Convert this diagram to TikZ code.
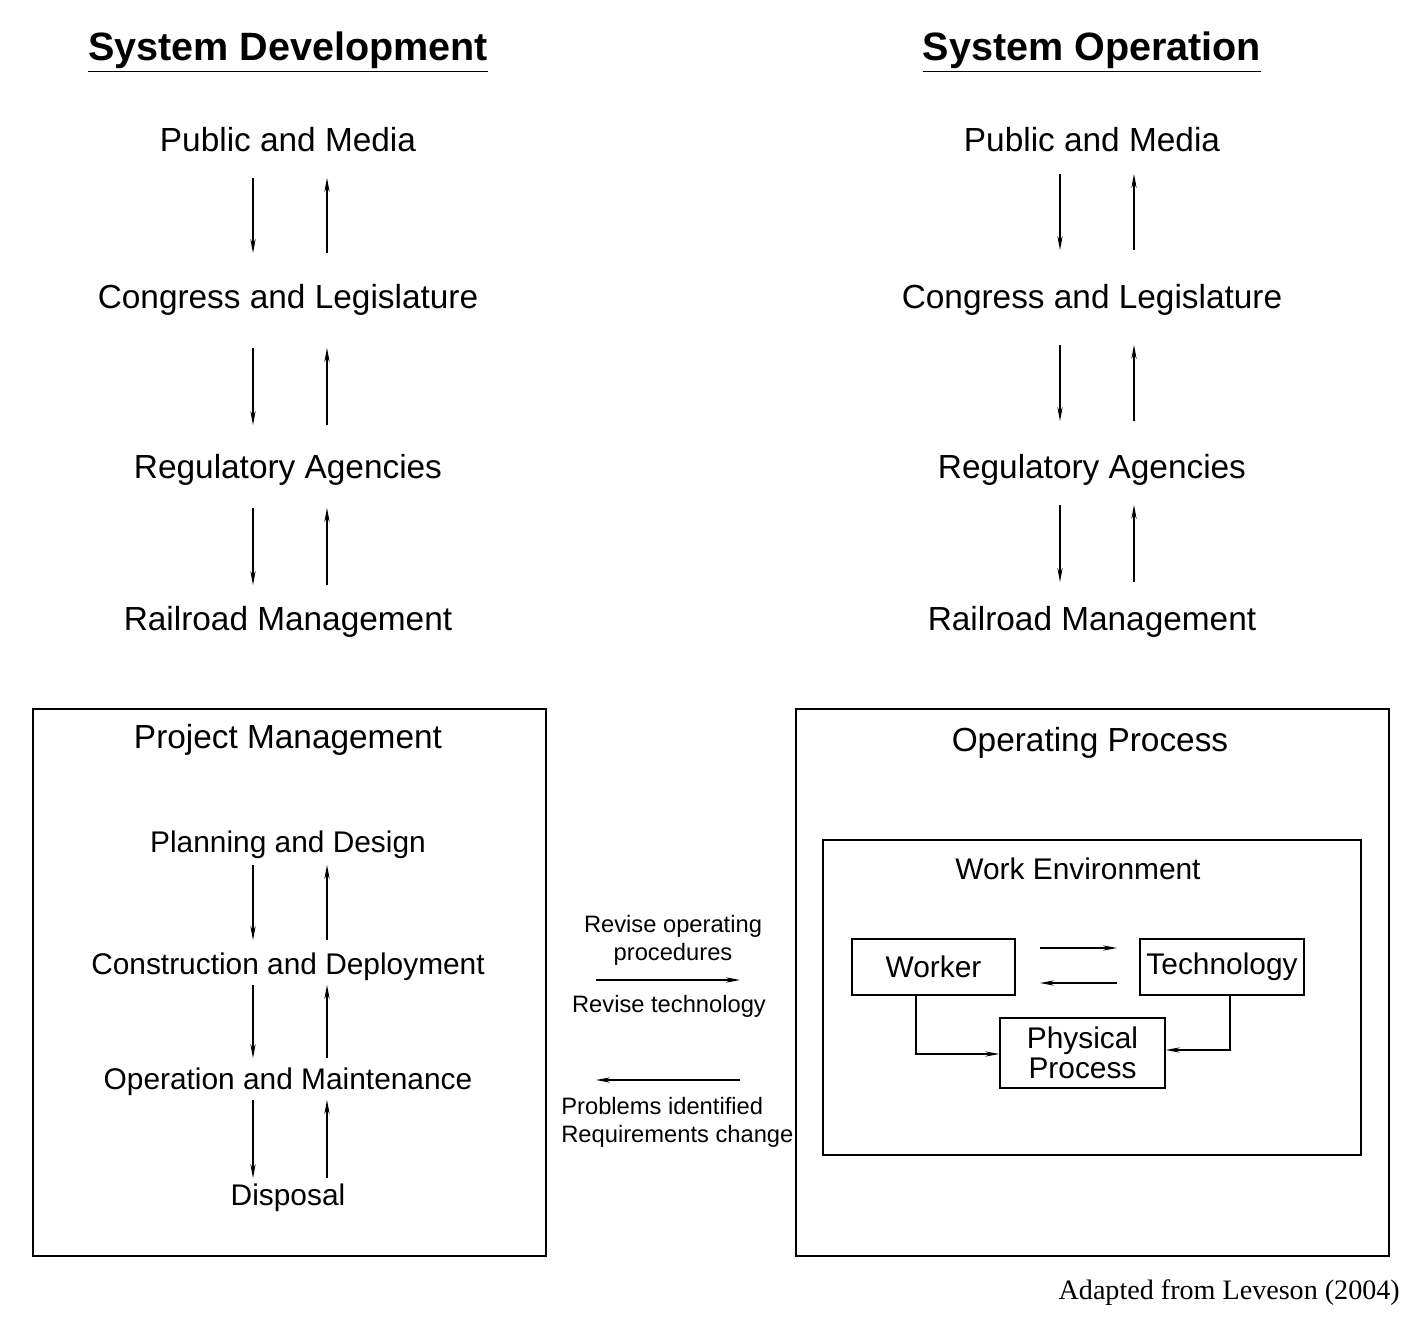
\documentclass[tikz,border=0pt]{standalone}
\usepackage{fontspec}
\setmainfont{Liberation Sans}
\newfontfamily\seriffont{Liberation Serif}
\usetikzlibrary{arrows.meta}
\begin{document}
\begin{tikzpicture}[x=0.02cm,y=-0.02cm,
  ttl/.style={font=\fontsize{22.5}{26}\selectfont\bfseries},
  lvl/.style={font=\fontsize{19}{22}\selectfont},
  inl/.style={font=\fontsize{17}{20}\selectfont},
  sml/.style={font=\fontsize{13.5}{16}\selectfont},
  box/.style={draw,line width=0.9pt},
  arr/.style={-{Stealth[length=8pt,width=3pt]},line width=0.6pt}]
\useasboundingbox (0,0) rectangle (1424,1318);
% Left column
\node[ttl] (t1) at (288,52) {\underline{System Development}};
\node[lvl] (l1) at (288,140) {Public and Media};
\node[lvl] (l2) at (288,300) {Congress and Legislature};
\node[lvl] (l3) at (288,470) {Regulatory Agencies};
\node[lvl] (l4) at (288,622) {Railroad Management};
\foreach \a/\b in {178/253,348/425,508/585}{
  \draw[arr] (253,\a) -- (253,\b);
  \draw[arr] (327,\b) -- (327,\a);}
% Right column
\node[ttl] (t2) at (1092,52) {\underline{System Operation}};
\node[lvl] (r1) at (1092,140) {Public and Media};
\node[lvl] (r2) at (1092,300) {Congress and Legislature};
\node[lvl] (r3) at (1092,470) {Regulatory Agencies};
\node[lvl] (r4) at (1092,622) {Railroad Management};
\foreach \a/\b in {174/250,345/421,505/582}{
  \draw[arr] (1060,\a) -- (1060,\b);
  \draw[arr] (1134,\b) -- (1134,\a);}
% Project management box
\draw[box] (33,709) rectangle (546,1256);
\node[lvl] (pm) at (288,740) {Project Management};
\node[inl] (p1) at (288,845) {Planning and Design};
\node[inl] (p2) at (288,967) {Construction and Deployment};
\node[inl] (p3) at (288,1082) {Operation and Maintenance};
\node[inl] (p4) at (288,1198) {Disposal};
\foreach \a/\b in {865/940,985/1058,1100/1178}{
  \draw[arr] (253,\a) -- (253,\b);
  \draw[arr] (327,\b) -- (327,\a);}
% Operating process
\draw[box] (796,709) rectangle (1389,1256);
\node[lvl] (op) at (1090,743) {Operating Process};
\draw[box] (823,840) rectangle (1361,1155);
\node[inl] (we) at (1078,869) {Work Environment};
\node[inl,box,minimum width=163*0.02cm,minimum height=56*0.02cm] (wk) at (933.5,967) {Worker};
\node[inl,box,minimum width=164*0.02cm,minimum height=56*0.02cm,inner sep=1pt] (tc) at (1222,967) {Technology};
\node[inl,box,minimum width=165*0.02cm,minimum height=70*0.02cm,align=center,font=\fontsize{17}{17}\selectfont] (pp) at (1082.5,1053) {Physical\\Process};
\draw[arr] (1040,948) -- (1117,948);
\draw[arr] (1117,983) -- (1040,983);
\draw[arr] (916,995) |- (pp.west |- 0,1054);
\draw[arr] (1230,995) |- (pp.east |- 0,1050);
% Middle
\node[sml,align=center] (m1) at (673,940) {Revise operating\\procedures};
\draw[arr] (596,980) -- (740,980);
\node[sml] (m2) at (669,1006) {Revise technology};
\draw[arr] (740,1080) -- (596,1080);
\node[sml,align=left,anchor=north west,inner sep=0pt] (m3) at (561,1097) {Problems identified\\Requirements change};
\node[font=\fontsize{16}{18}\selectfont\seriffont,anchor=east] (ft) at (1406,1293) {Adapted from Leveson (2004)};
\end{tikzpicture}
\end{document}
